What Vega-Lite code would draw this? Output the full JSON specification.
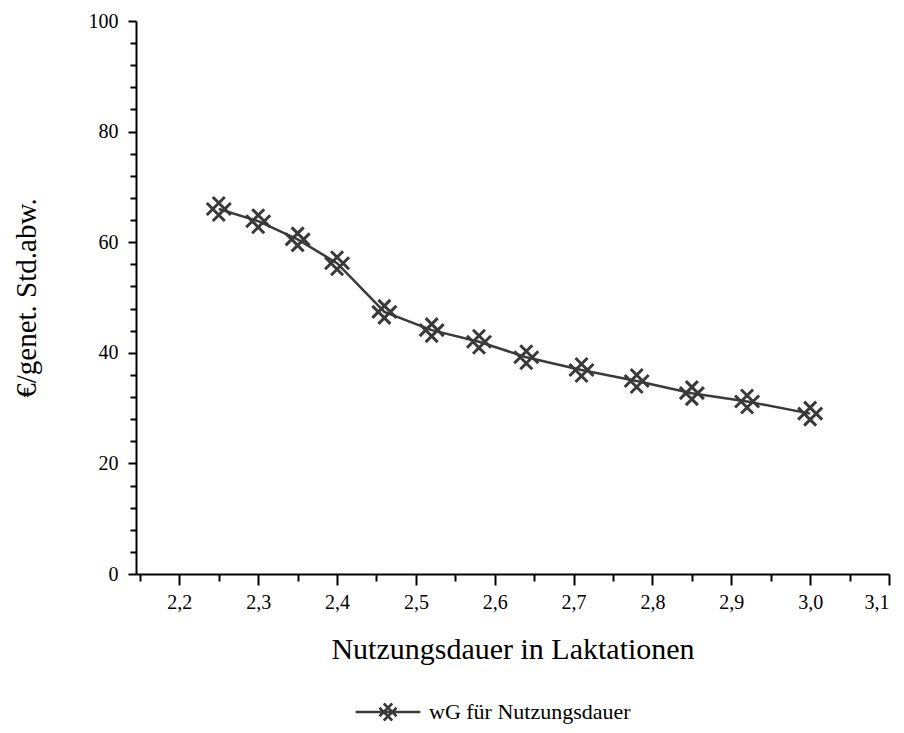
{
  "$schema": "https://vega.github.io/schema/vega-lite/v6.json",
  "width": 753,
  "height": 553,
  "autosize": {"type": "none"},
  "padding": {"left": 136, "top": 21, "right": 15, "bottom": 159},
  "background": "white",
  "config": {
    "view": {"stroke": null},
    "font": "Liberation Serif",
    "axis": {"grid": false, "domainColor": "black", "domainWidth": 2, "tickColor": "black", "tickWidth": 2, "labelColor": "black", "titleColor": "black", "labelFont": "Liberation Serif", "labelFontSize": 20, "titleFont": "Liberation Serif", "titleFontWeight": "normal"},
    "legend": {"labelFont": "Liberation Serif"}
  },
  "data": {
    "values": [
      {"x": 2.25, "y": 66.0, "series": "wG für Nutzungsdauer"},
      {"x": 2.30, "y": 63.8, "series": "wG für Nutzungsdauer"},
      {"x": 2.35, "y": 60.5, "series": "wG für Nutzungsdauer"},
      {"x": 2.40, "y": 56.2, "series": "wG für Nutzungsdauer"},
      {"x": 2.46, "y": 47.4, "series": "wG für Nutzungsdauer"},
      {"x": 2.52, "y": 44.1, "series": "wG für Nutzungsdauer"},
      {"x": 2.58, "y": 42.0, "series": "wG für Nutzungsdauer"},
      {"x": 2.64, "y": 39.2, "series": "wG für Nutzungsdauer"},
      {"x": 2.71, "y": 36.9, "series": "wG für Nutzungsdauer"},
      {"x": 2.78, "y": 34.9, "series": "wG für Nutzungsdauer"},
      {"x": 2.85, "y": 32.7, "series": "wG für Nutzungsdauer"},
      {"x": 2.92, "y": 31.2, "series": "wG für Nutzungsdauer"},
      {"x": 3.00, "y": 29.0, "series": "wG für Nutzungsdauer"}
    ]
  },
  "resolve": {"axis": {"x": "independent", "y": "independent"}},
  "layer": [
    {
      "mark": {"type": "line", "color": "#3a3a3a", "strokeWidth": 2.5},
      "encoding": {
        "x": {"field": "x", "type": "quantitative", "scale": {"domain": [2.145, 3.1], "nice": false, "zero": false},
          "axis": {"orient": "bottom", "values": [2.2, 2.3, 2.4, 2.5, 2.6, 2.7, 2.8, 2.9, 3.0, 3.1], "labelExpr": "replace(format(datum.value, '.1f'), '.', ',')", "labelFont": "Liberation Serif", "labelFontSize": 20, "labelPadding": 7, "tickSize": 11, "title": "Nutzungsdauer in Laktationen", "titleFont": "Liberation Serif", "titleFontSize": 30, "titlePadding": 22}},
        "y": {"field": "y", "type": "quantitative", "scale": {"domain": [0, 100], "nice": false},
          "axis": {"orient": "left", "values": [0, 20, 40, 60, 80, 100], "labelFont": "Liberation Serif", "labelFontSize": 20, "labelPadding": 10, "tickSize": 8, "title": "€/genet. Std.abw.", "titleFont": "Liberation Serif", "titleFontSize": 29, "titlePadding": 47}}
      }
    },
    {
      "mark": {"type": "point", "opacity": 0},
      "encoding": {
        "x": {"field": "x", "type": "quantitative", "scale": {"domain": [2.145, 3.1], "nice": false, "zero": false},
          "axis": {"orient": "bottom", "values": [2.15, 2.25, 2.35, 2.45, 2.55, 2.65, 2.75, 2.85, 2.95, 3.05], "labels": false, "domain": false, "tickSize": 7, "title": null}},
        "y": {"field": "y", "type": "quantitative", "scale": {"domain": [0, 100], "nice": false},
          "axis": {"orient": "left", "values": [4, 8, 12, 16, 24, 28, 32, 36, 44, 48, 52, 56, 64, 68, 72, 76, 84, 88, 92, 96], "labels": false, "domain": false, "tickSize": 6, "title": null}}
      }
    },
    {
      "mark": {"type": "point", "filled": false, "strokeWidth": 3, "size": 576, "opacity": 1, "shape": "M-1,-0.5L0.5,1M-0.5,-1L1,0.5M-1,0.5L0.5,-1M-0.5,1L1,-0.5"},
      "encoding": {
        "x": {"field": "x", "type": "quantitative", "axis": null},
        "y": {"field": "y", "type": "quantitative", "axis": null},
        "color": {"field": "series", "type": "nominal", "scale": {"range": ["#3a3a3a"]},
          "legend": {"title": null, "orient": "none", "legendX": 241, "legendY": 680, "padding": 0, "symbolType": "M-3.8,0L3.8,0M-1,-0.5L0.5,1M-0.5,-1L1,0.5M-1,0.5L0.5,-1M-0.5,1L1,-0.5", "symbolSize": 289, "symbolStrokeWidth": 2.5, "symbolStrokeColor": "#3a3a3a", "symbolFillColor": "transparent", "labelFont": "Liberation Serif", "labelFontSize": 22, "labelColor": "black", "labelOffset": 30, "labelLimit": 500}}
      }
    }
  ]
}
